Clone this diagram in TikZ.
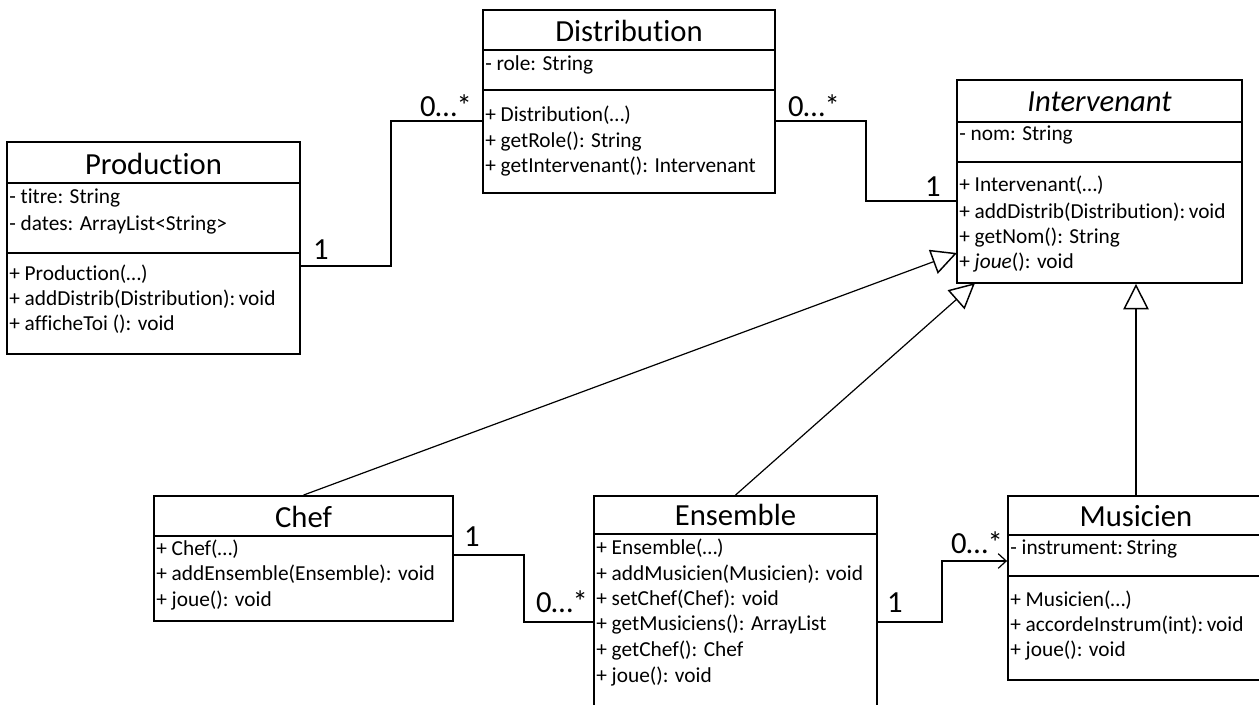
\documentclass[tikz,border=0pt]{standalone}
\usepackage{fontspec}
\setmainfont{Carlito}[Ligatures=NoCommon]
\usetikzlibrary{fit,arrows.meta}
\tikzset{
  box/.style={draw, line width=1.4pt, inner sep=0pt},
  ttl/.style={font=\fontsize{23}{27}\selectfont, inner sep=0pt},
  txt/.style={font=\fontsize{16}{19}\selectfont, anchor=west, inner sep=0pt, text height=0.6em, text depth=0.15em},
  mult/.style={font=\fontsize{23}{27}\selectfont, inner sep=0pt},
  conn/.style={line width=0.9pt},
  gen/.style={conn, -{Triangle[open, length=19pt, width=19pt, line width=1.1pt]}},
  nav/.style={conn, -{Straight Barb[length=6pt, width=11pt, line width=0.9pt]}},
  tsep/.style={line width=1.8pt},
  asep/.style={line width=0.8pt}
}
\begin{document}
\begin{tikzpicture}[x=0.75pt,y=-0.75pt]
\useasboundingbox (0,0) rectangle (1259,704);
\fill[white] (0,0) rectangle (1259,704);

% ---------- Production ----------
\node[box, fit={(7,142) (300,354)}] (prod) {};
\node[ttl] (prodT) at (153.5,164) {Production};
\draw[tsep] (7,183) -- (300,183);
\draw[asep] (7,253) -- (300,253);
\node[txt] (p1) at (9,200) {- titre: String};
\node[txt] (p2) at (9,227) {- dates: ArrayList<String>};
\node[txt] (p3) at (9,277) {+ Production(…)};
\node[txt] (p4) at (9,302) {+ addDistrib(Distribution):\,void};
\node[txt] (p5) at (9,327) {+ afficheToi (): void};

% ---------- Distribution ----------
\node[box, fit={(483,10) (775,193)}] (dist) {};
\node[ttl] (distT) at (629,31) {Distribution};
\draw[tsep] (483,50) -- (775,50);
\draw[asep] (483,90) -- (775,90);
\node[txt] (d1) at (485,67) {- role: String};
\node[txt] (d2) at (485,118) {+ Distribution(…)};
\node[txt] (d3) at (485,144) {+ getRole(): String};
\node[txt] (d4) at (485,169) {+ getIntervenant(): Intervenant};

% ---------- Intervenant ----------
\node[box, fit={(957,80) (1242,283)}] (int) {};
\node[ttl] (intT) at (1099.5,102) {\itshape Intervenant};
\draw[tsep] (957,122) -- (1242,122);
\draw[asep] (957,162) -- (1242,162);
\node[txt] (i1) at (959,137) {- nom: String};
\node[txt] (i2) at (959,188) {+ Intervenant(…)};
\node[txt] (i3) at (959,215) {+ addDistrib(Distribution):\,void};
\node[txt] (i4) at (959,240) {+ getNom(): String};
\node[txt] (i5) at (959,265) {+ \textit{joue}(): void};

% ---------- Chef ----------
\node[box, fit={(154,496) (453,621)}] (chef) {};
\node[ttl] (chefT) at (303.5,517) {Chef};
\draw[tsep] (154,536) -- (453,536);
\node[txt] (c1) at (156,552) {+ Chef(…)};
\node[txt] (c2) at (156,577) {+ addEnsemble(Ensemble): void};
\node[txt] (c3) at (156,603) {+ joue(): void};

% ---------- Ensemble ----------
\node[box, fit={(594,496) (877,712)}] (ens) {};
\node[ttl] (ensT) at (735.5,515) {Ensemble};
\draw[tsep] (594,534) -- (877,534);
\node[txt] (e1) at (596,551) {+ Ensemble(…)};
\node[txt] (e2) at (596,577) {+ addMusicien(Musicien): void};
\node[txt] (e3) at (596,602) {+ setChef(Chef): void};
\node[txt] (e4) at (596,627) {+ getMusiciens(): ArrayList};
\node[txt] (e5) at (596,653) {+ getChef(): Chef};
\node[txt] (e6) at (596,679) {+ joue(): void};

% ---------- Musicien ----------
\node[box, fit={(1008,496) (1264,680)}] (mus) {};
\node[ttl] (musT) at (1136,516) {Musicien};
\draw[tsep] (1008,535) -- (1264,535);
\draw[asep] (1008,576) -- (1264,576);
\node[txt] (m1) at (1010,551) {- instrument:\,String};
\node[txt] (m2) at (1010,603) {+ Musicien(…)};
\node[txt] (m3) at (1010,628) {+ accordeInstrum(int):\,void};
\node[txt] (m4) at (1010,653) {+ joue(): void};

% ---------- connectors ----------
\coordinate (a1) at (391,266);
\coordinate (a2) at (391,121);
\draw[conn] (prod.east |- a1) -- (a1) -- (a2) -- (a2 -| dist.west);

\coordinate (b1) at (866,121);
\coordinate (b2) at (866,201);
\draw[conn] (dist.east |- b1) -- (b1) -- (b2) -- (b2 -| int.west);

\coordinate (k1) at (524,555);
\coordinate (k2) at (524,622);
\draw[conn] (chef.east |- k1) -- (k1) -- (k2) -- (k2 -| ens.west);

\coordinate (n1) at (942,622);
\coordinate (n2) at (942,561);
\draw[nav] (ens.east |- n1) -- (n1) -- (n2) -- (n2 -| mus.west);

\coordinate (g1) at (957,253);
\coordinate (g2) at (975,283);
\draw[gen] (chef.north) -- (g1);
\draw[gen] (ens.north) -- (g2);
\draw[gen] (mus.north) -- (mus.north |- int.south);

% ---------- multiplicities ----------
\node[mult] (l1) at (321,250) {1};
\node[mult] (l2) at (446,106) {0…*};
\node[mult] (l3) at (814,106) {0…*};
\node[mult] (l4) at (933,187) {1};
\node[mult] (l5) at (472,537) {1};
\node[mult] (l6) at (562,602) {0…*};
\node[mult] (l7) at (895,603) {1};
\node[mult] (l8) at (977,543) {0…*};
\end{tikzpicture}
\end{document}
